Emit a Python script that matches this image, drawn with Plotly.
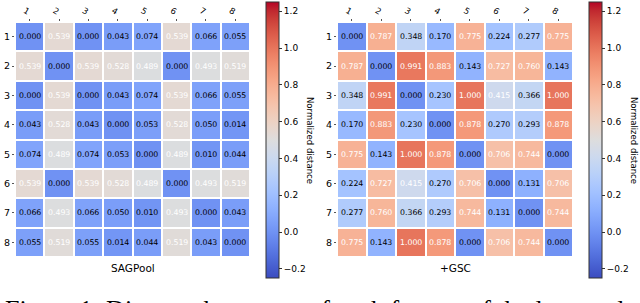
import plotly.graph_objects as go

labels = ["1", "2", "3", "4", "5", "6", "7", "8"]

sagpool = [
    [0.000, 0.539, 0.000, 0.043, 0.074, 0.539, 0.066, 0.055],
    [0.539, 0.000, 0.539, 0.528, 0.489, 0.000, 0.493, 0.519],
    [0.000, 0.539, 0.000, 0.043, 0.074, 0.539, 0.066, 0.055],
    [0.043, 0.528, 0.043, 0.000, 0.053, 0.528, 0.050, 0.014],
    [0.074, 0.489, 0.074, 0.053, 0.000, 0.489, 0.010, 0.044],
    [0.539, 0.000, 0.539, 0.528, 0.489, 0.000, 0.493, 0.519],
    [0.066, 0.493, 0.066, 0.050, 0.010, 0.493, 0.000, 0.043],
    [0.055, 0.519, 0.055, 0.014, 0.044, 0.519, 0.043, 0.000],
]

gsc = [
    [0.000, 0.787, 0.348, 0.170, 0.775, 0.224, 0.277, 0.775],
    [0.787, 0.000, 0.991, 0.883, 0.143, 0.727, 0.760, 0.143],
    [0.348, 0.991, 0.000, 0.230, 1.000, 0.415, 0.366, 1.000],
    [0.170, 0.883, 0.230, 0.000, 0.878, 0.270, 0.293, 0.878],
    [0.775, 0.143, 1.000, 0.878, 0.000, 0.706, 0.744, 0.000],
    [0.224, 0.727, 0.415, 0.270, 0.706, 0.000, 0.131, 0.706],
    [0.277, 0.760, 0.366, 0.293, 0.744, 0.131, 0.000, 0.744],
    [0.775, 0.143, 1.000, 0.878, 0.000, 0.706, 0.744, 0.000],
]

titles = ["SAGPool", "+GSC"]
cbar_title = "Normalized distance"
caption = "Figure 1: Distance heatmaps of each feature of the last pooled layer"

# matplotlib coolwarm (Moreland) 33-point table
cw = [
    (59, 76, 192), (68, 90, 204), (77, 104, 215), (87, 117, 225), (98, 130, 234),
    (108, 142, 241), (119, 154, 247), (130, 165, 251), (141, 176, 254), (152, 185, 255),
    (163, 194, 255), (174, 201, 253), (184, 208, 249), (194, 213, 244), (204, 217, 238),
    (213, 219, 230), (221, 221, 221), (229, 216, 209), (236, 211, 197), (241, 204, 185),
    (245, 196, 173), (247, 187, 160), (247, 177, 148), (247, 166, 135), (244, 154, 123),
    (241, 141, 111), (236, 127, 99), (229, 112, 88), (222, 96, 77), (213, 80, 66),
    (203, 62, 56), (192, 40, 47), (180, 4, 38),
]
colorscale = [[i / 32, "rgb(%d,%d,%d)" % c] for i, c in enumerate(cw)]

VMIN, VMAX = -0.25, 1.25
W, H = 640, 303
FONT = "DejaVu Sans"

idx = list(range(len(labels)))

fig = go.Figure()

panels = [
    dict(z=sagpool, xd=(15, 250), cbx=266, titlex=310),
    dict(z=gsc, xd=(337, 573), cbx=589, titlex=634),
]
top, bot = 22, 257

annotations = []
for i, p in enumerate(panels):
    ax = "" if i == 0 else str(i + 1)
    fig.add_trace(go.Heatmap(
        z=p["z"], x=idx, y=idx,
        xaxis="x" + ax, yaxis="y" + ax,
        zmin=VMIN, zmax=VMAX, colorscale=colorscale,
        xgap=2, ygap=2, hoverinfo="skip",
        colorbar=dict(
            x=p["cbx"] / W, xanchor="left", xref="paper",
            y=1 - 140 / H, yanchor="middle", len=276 / H, lenmode="fraction",
            thickness=13, thicknessmode="pixels",
            outlinewidth=1, outlinecolor="#333",
            tickvals=[-0.2, 0.0, 0.2, 0.4, 0.6, 0.8, 1.0, 1.2],
            ticktext=["\u22120.2", "0.0", "0.2", "0.4", "0.6", "0.8", "1.0", "1.2"],
            ticks="outside", ticklen=3, tickwidth=1, tickcolor="#333",
            tickfont=dict(family=FONT, size=9, color="black"),
            xpad=0, ypad=0,
        ),
    ))
    fig.layout["xaxis" + ax] = dict(
        domain=[p["xd"][0] / W, p["xd"][1] / W], anchor="y" + ax,
        side="top", tickangle=30, ticks="outside", ticklen=2, tickcolor="#555",
        tickvals=idx, ticktext=labels, range=[-0.5, 7.5],
        tickfont=dict(family=FONT, size=8.5, color="black"),
        showgrid=False, zeroline=False, showline=False,
    )
    fig.layout["yaxis" + ax] = dict(
        domain=[1 - bot / H, 1 - top / H], anchor="x" + ax,
        range=[7.5, -0.5], ticks="outside", ticklen=2, tickcolor="#555",
        tickvals=idx, ticktext=labels,
        tickfont=dict(family=FONT, size=9.5, color="black"),
        showgrid=False, zeroline=False, showline=False,
    )
    for r, row in enumerate(p["z"]):
        for c, v in enumerate(row):
            annotations.append(dict(
                x=idx[c], y=idx[r], xref="x" + ax, yref="y" + ax,
                text="%.3f" % v, showarrow=False,
                font=dict(family=FONT, size=7.8, color="white" if v > 0.4 else "black"),
            ))
    annotations.append(dict(
        x=(p["xd"][0] + p["xd"][1]) / 2 / W, y=1 - 268 / H, xref="paper", yref="paper",
        text=titles[i], showarrow=False, xanchor="center", yanchor="middle",
        font=dict(family=FONT, size=10.5, color="black"),
    ))
    annotations.append(dict(
        x=p["titlex"] / W, y=1 - 140 / H, xref="paper", yref="paper",
        text=cbar_title, showarrow=False, textangle=90,
        xanchor="center", yanchor="middle", borderpad=0,
        font=dict(family=FONT, size=8.5, color="black"),
    ))

annotations.append(dict(
    x=3 / W, y=1 - 293 / H, xref="paper", yref="paper",
    text=caption, showarrow=False, xanchor="left", yanchor="top",
    font=dict(family="Liberation Serif", size=26, color="black"),
))

fig.update_layout(
    width=W, height=H, autosize=False, margin=dict(l=0, r=0, t=0, b=0),
    paper_bgcolor="white", plot_bgcolor="white",
    annotations=annotations, showlegend=False,
)

fig.write_html(
    "out.html",
    config={"responsive": False, "displayModeBar": False},
    post_script="document.body.style.margin='0';document.body.style.overflow='hidden';",
)
